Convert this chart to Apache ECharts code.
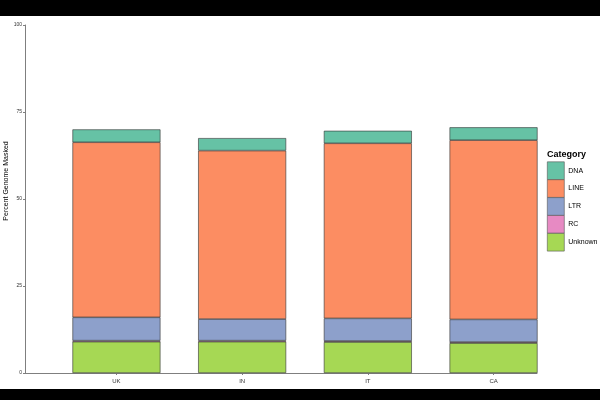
<!DOCTYPE html>
<html>
<head>
<meta charset="utf-8">
<script src="https://cdn.jsdelivr.net/npm/echarts@6/dist/echarts.min.js"></script>
<style>
html,body{margin:0;padding:0;background:#000;width:600px;height:400px;overflow:hidden;}
#main{position:absolute;left:0;top:16px;width:600px;height:373px;background:#fff;}
</style>
</head>
<body>
<div id="main"></div>
<script>
// data
let countries = ["UK", "IN", "IT", "CA"]
let legendNames = ["DNA", "LINE", "LTR", "RC", "Unknown"]
let unknownVals = [9.0, 9.0, 8.9, 8.6]
let rcVals = [0.3, 0.3, 0.3, 0.3]
let ltrVals = [6.7, 6.2, 6.5, 6.5]
let lineVals = [50.3, 48.4, 50.3, 51.5]
let dnaVals = [3.7, 3.6, 3.6, 3.7]
let yTicks = [0, 25, 50, 75, 100]

let colors = {
    DNA: "#66C2A5",
    LINE: "#FC8D62",
    LTR: "#8DA0CB",
    RC: "#E78AC3",
    Unknown: "#A6D854"
}

let chart = echarts.init(document.getElementById("main"))

function bar(name, data) {
    return {
        name: name,
        type: "bar",
        stack: "all",
        xAxisIndex: 0,
        yAxisIndex: 0,
        barWidth: "70%",
        data: data,
        itemStyle: {
            color: colors[name],
            borderColor: "#333",
            borderWidth: 0.6
        }
    }
}

let option = {
    animation: false,
    textStyle: {fontFamily: "Liberation Sans, Arial, sans-serif"},
    title: {
        text: "Category",
        left: 547,
        top: 134.5,
        padding: 0,
        textStyle: {fontSize: 9, fontWeight: "bold", color: "#000"}
    },
    legend: {
        data: legendNames,
        orient: "vertical",
        left: 547,
        top: 145.5,
        padding: 0,
        itemWidth: 17,
        itemHeight: 17.7,
        itemGap: -0.4,
        icon: "rect",
        itemStyle: {borderColor: "#555", borderWidth: 0.6},
        textStyle: {fontSize: 7, color: "#000", padding: [0, 0, 0, -1]}
    },
    grid: [
        {left: 53.6, width: 502.8, top: 9, bottom: 16, outerBoundsMode: "none"},
        {left: 25, width: 512, top: 9, bottom: 16, outerBoundsMode: "none"}
    ],
    xAxis: [
        {
            type: "category",
            gridIndex: 0,
            data: countries,
            axisLine: {show: false},
            axisTick: {show: true, alignWithLabel: true, length: 2, lineStyle: {color: "#7f7f7f"}},
            axisLabel: {fontSize: 6, color: "#333", margin: 5}
        },
        {
            type: "value",
            gridIndex: 1,
            min: 0,
            max: 1,
            splitLine: {show: false},
            axisLabel: {show: false},
            axisTick: {show: false},
            axisLine: {show: true, onZero: false, lineStyle: {color: "#7f7f7f", width: 1}}
        }
    ],
    yAxis: [
        {
            type: "value",
            gridIndex: 0,
            min: 0,
            max: 100,
            show: false
        },
        {
            type: "value",
            gridIndex: 1,
            min: 0,
            max: 100,
            interval: 25,
            name: "Percent Genome Masked",
            nameLocation: "middle",
            nameGap: 15.5,
            nameMoveOverlap: false,
            nameTextStyle: {fontSize: 7, color: "#000", padding: [0, 0, 0, 36]},
            splitLine: {show: false},
            axisLine: {show: true, lineStyle: {color: "#7f7f7f", width: 1}},
            axisTick: {show: true, length: 2, lineStyle: {color: "#7f7f7f"}},
            axisLabel: {fontSize: 5, color: "#333", margin: 3, customValues: yTicks}
        }
    ],
    series: [
        bar("Unknown", unknownVals),
        bar("RC", rcVals),
        bar("LTR", ltrVals),
        bar("LINE", lineVals),
        bar("DNA", dnaVals)
    ]
}

chart.setOption(option)
</script>
</body>
</html>
